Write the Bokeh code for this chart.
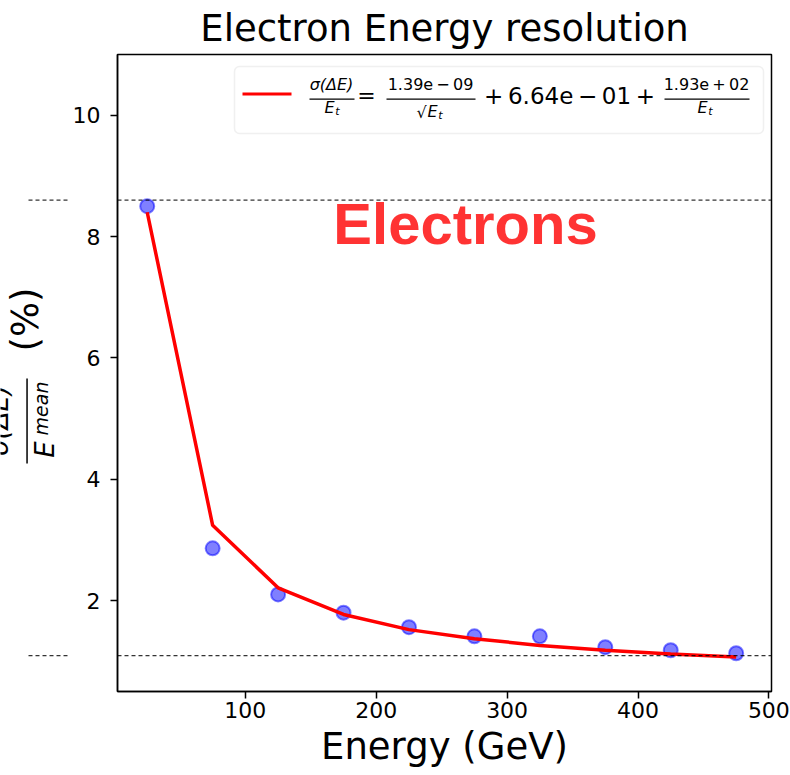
import math
from bokeh.plotting import figure
from bokeh.layouts import row
from bokeh.models import Label, BoxAnnotation, Span, Range1d, FixedTicker
from bokeh.embed import file_html
from bokeh.resources import INLINE

# ---- data ----
energy = [25, 75, 125, 175, 225, 275, 325, 375, 425, 475]
resolution = [8.50, 2.86, 2.10, 1.80, 1.56, 1.41, 1.41, 1.23, 1.18, 1.13]
fit_values = [8.40, 3.24, 2.21, 1.77, 1.52, 1.37, 1.26, 1.18, 1.12, 1.07]
ref_lines = [8.60, 1.09]
x_ticks = [100, 200, 300, 400, 500]
y_ticks = [2, 4, 6, 8, 10]
fit_a = "1.39e\u2009\u2212\u200909"
fit_b = "+\u20096.64e\u2009\u2212\u200901\u2009+"
fit_c = "1.93e\u2009+\u200902"
title_text = "Electron Energy resolution"
x_label = "Energy (GeV)"
tag_text = "Electrons"

FONT = "DejaVu Sans"
H = 775
TOP, BOTTOM = 54, 84           # frame top / space below frame
WL = 69                        # width of the left strip holding the y label
y_range = Range1d(0.5, 11.0)

p = figure(width=790 - WL, height=H,
           x_range=Range1d(2.3, 502), y_range=y_range,
           output_backend="svg", toolbar_location=None, title=title_text,
           min_border_left=48, min_border_right=19,
           min_border_top=TOP, min_border_bottom=BOTTOM)
p.background_fill_color = "white"
p.border_fill_color = "white"
p.outline_line_color = "black"
p.outline_line_width = 1.5
p.xgrid.visible = False
p.ygrid.visible = False

p.title.align = "center"
p.title.text_font = FONT
p.title.text_font_size = "37px"
p.title.text_font_style = "normal"
p.title.text_color = "black"
p.title.standoff = 9

for ax in (p.xaxis, p.yaxis):
    ax.axis_line_color = "black"
    ax.axis_line_width = 1.5
    ax.major_tick_line_color = "black"
    ax.major_tick_line_width = 1.5
    ax.major_tick_out = 7
    ax.major_tick_in = 0
    ax.minor_tick_line_color = None
    ax.major_label_text_font = FONT
    ax.major_label_text_font_size = "22px"
    ax.major_label_text_color = "black"
p.xaxis.major_label_standoff = 3
p.yaxis.major_label_standoff = 10
p.xaxis.ticker = FixedTicker(ticks=x_ticks)
p.yaxis.ticker = FixedTicker(ticks=y_ticks)
p.xaxis.axis_label = x_label
p.xaxis.axis_label_text_font = FONT
p.xaxis.axis_label_text_font_size = "37px"
p.xaxis.axis_label_text_font_style = "normal"
p.xaxis.axis_label_text_color = "black"
p.xaxis.axis_label_standoff = 4

# ---- data marks ----
p.scatter(energy, resolution, size=14, fill_color="blue", fill_alpha=0.5,
          line_color="blue", line_alpha=0.5, line_width=2)
p.line(energy, fit_values, line_color="red", line_width=3.5)

# dashed reference lines
for v in ref_lines:
    p.add_layout(Span(location=v, dimension="width", line_color="black",
                      line_width=1, line_dash="4 3"))

# ---- decorations (page-pixel positions converted to frame screen units) ----
FX0, FY0 = 117, H - BOTTOM


def lab(fig, x0, text, X, Y, size, style="normal", align="center", baseline="middle",
        angle=0.0, color="black", font=FONT):
    fig.add_layout(Label(x=X - x0, y=FY0 - Y, x_units="screen", y_units="screen",
                         text=text, text_font=font, text_font_size=f"{size}px",
                         text_font_style=style, text_align=align,
                         text_baseline=baseline, angle=angle, text_color=color))


def rect(fig, x0, X0, X1, Y0, Y1, color):
    fig.add_layout(BoxAnnotation(left=X0 - x0, right=X1 - x0,
                                 top=FY0 - Y0, bottom=FY0 - Y1,
                                 left_units="screen", right_units="screen",
                                 top_units="screen", bottom_units="screen",
                                 fill_color=color, fill_alpha=1.0, line_color=None))


# legend box
p.add_layout(BoxAnnotation(left=234 - FX0, right=763 - FX0, top=FY0 - 66, bottom=FY0 - 133,
                           left_units="screen", right_units="screen",
                           top_units="screen", bottom_units="screen",
                           fill_color="white", fill_alpha=0.8,
                           line_color="#cccccc", line_width=1.5, border_radius=5))
rect(p, FX0, 242, 291, 92, 95, "red")
lab(p, FX0, "\u03c3(\u0394E)", 331, 84, 16, style="italic")
rect(p, FX0, 309, 354, 98, 99.3, "black")
lab(p, FX0, "E", 329, 107, 16, style="italic", baseline="alphabetic")
lab(p, FX0, "t", 337, 111, 11, style="italic", baseline="alphabetic")
lab(p, FX0, "=", 366, 95, 22)
lab(p, FX0, fit_a, 430, 84, 16)
rect(p, FX0, 386, 475, 98, 99.3, "black")
lab(p, FX0, "\u221a", 421, 112, 16, baseline="alphabetic")
lab(p, FX0, "E", 432, 111, 16, style="italic", baseline="alphabetic")
lab(p, FX0, "t", 440, 115, 11, style="italic", baseline="alphabetic")
lab(p, FX0, fit_b, 569, 95, 23)
lab(p, FX0, fit_c, 706, 84, 16)
rect(p, FX0, 664, 749, 98, 99.3, "black")
lab(p, FX0, "E", 702, 107, 16, style="italic", baseline="alphabetic")
lab(p, FX0, "t", 710, 111, 11, style="italic", baseline="alphabetic")

lab(p, FX0, tag_text, 465, 223, 58, style="bold", baseline="alphabetic", color="#ff3333",
    font="Liberation Sans")

# ---- left strip: y-axis label (cut off at the page edge) ----
q = figure(width=WL, height=H, x_range=Range1d(0, WL), y_range=y_range,
           x_axis_location=None, y_axis_location=None,
           output_backend="svg", toolbar_location=None,
           min_border_left=0, min_border_right=0,
           min_border_top=TOP, min_border_bottom=BOTTOM)
q.outline_line_color = None
q.grid.visible = False
q.background_fill_color = "white"
q.border_fill_color = "white"
for v in ref_lines:
    q.segment(x0=28, x1=WL, y0=v, y1=v, line_color="black", line_width=1, line_dash="4 3")

up = math.pi / 2
lab(q, 0, "(%)", 25, 319, 37, angle=up)
rect(q, 0, 25.8, 27.3, 378, 463, "black")
lab(q, 0, "E", 44, 449, 26, style="italic", baseline="alphabetic", angle=up)
lab(q, 0, "mean", 40, 408, 19, style="italic", baseline="alphabetic", angle=up)
lab(q, 0, "\u03c3(\u0394E)", -2, 420, 26, style="italic", baseline="alphabetic", angle=up)

layout = row(q, p)
open("out.html", "w").write(file_html(layout, INLINE))
